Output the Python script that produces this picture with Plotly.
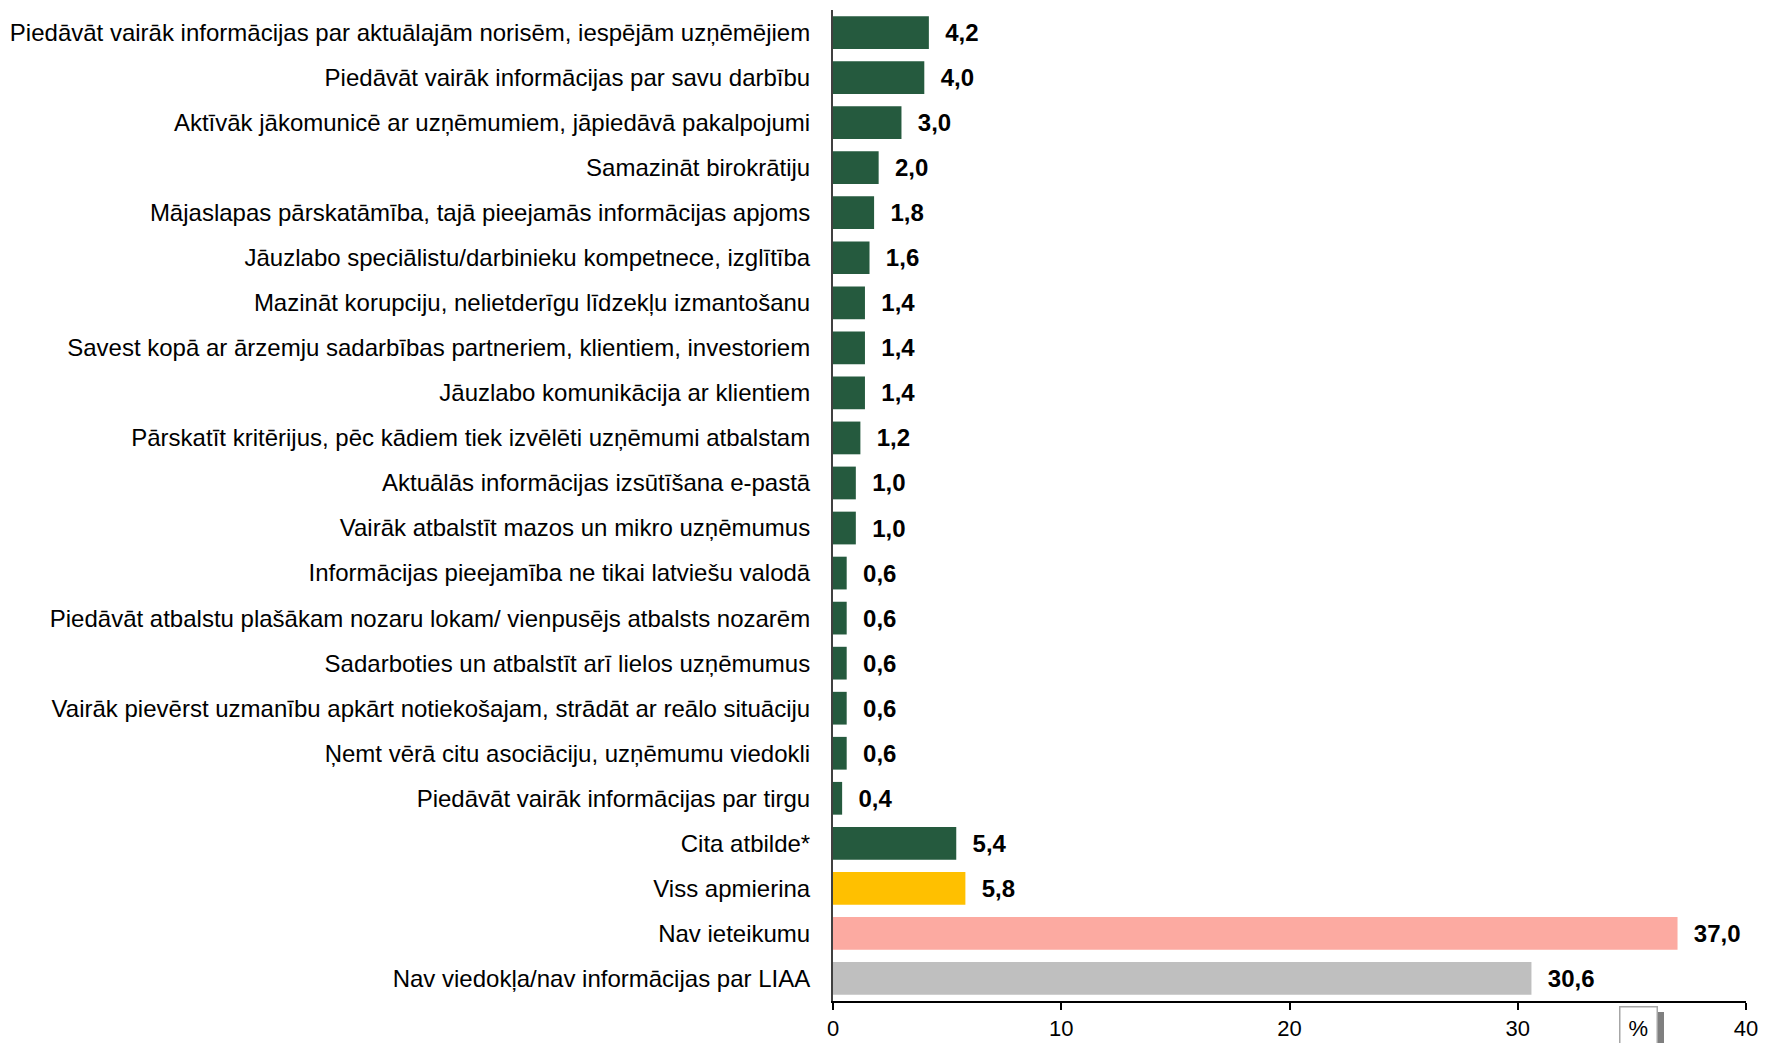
import plotly.graph_objects as go

categories = [
    "Piedāvāt vairāk informācijas par aktuālajām norisēm, iespējām uzņēmējiem",
    "Piedāvāt vairāk informācijas par savu darbību",
    "Aktīvāk jākomunicē ar uzņēmumiem, jāpiedāvā pakalpojumi",
    "Samazināt birokrātiju",
    "Mājaslapas pārskatāmība, tajā pieejamās informācijas apjoms",
    "Jāuzlabo speciālistu/darbinieku kompetnece, izglītība",
    "Mazināt korupciju, nelietderīgu līdzekļu izmantošanu",
    "Savest kopā ar ārzemju sadarbības partneriem, klientiem, investoriem",
    "Jāuzlabo komunikācija ar klientiem",
    "Pārskatīt kritērijus, pēc kādiem tiek izvēlēti uzņēmumi atbalstam",
    "Aktuālās informācijas izsūtīšana e-pastā",
    "Vairāk atbalstīt mazos un mikro uzņēmumus",
    "Informācijas pieejamība ne tikai latviešu valodā",
    "Piedāvāt atbalstu plašākam nozaru lokam/ vienpusējs atbalsts nozarēm",
    "Sadarboties un atbalstīt arī lielos uzņēmumus",
    "Vairāk pievērst uzmanību apkārt notiekošajam, strādāt ar reālo situāciju",
    "Ņemt vērā citu asociāciju, uzņēmumu viedokli",
    "Piedāvāt vairāk informācijas par tirgu",
    "Cita atbilde*",
    "Viss apmierina",
    "Nav ieteikumu",
    "Nav viedokļa/nav informācijas par LIAA",
]
values = [4.2, 4.0, 3.0, 2.0, 1.8, 1.6, 1.4, 1.4, 1.4, 1.2, 1.0, 1.0,
          0.6, 0.6, 0.6, 0.6, 0.6, 0.4, 5.4, 5.8, 37.0, 30.6]
x_ticks = [0, 10, 20, 30, 40]

GREEN = "#255A3E"
colors = [GREEN] * 19 + ["#FFC000", "#FCAAA1", "#BFBFBF"]

FONT = "Liberation Sans, Arial, sans-serif"
FS = 24

fig = go.Figure(go.Bar(
    y=categories,
    x=values,
    orientation="h",
    marker=dict(color=colors, line=dict(width=0)),
    texttemplate="\u00a0\u00a0%{x:.1f}",
    textposition="outside",
    textfont=dict(family=FONT, size=FS, color="black", weight="bold"),
    cliponaxis=False,
    hoverinfo="skip",
))

# The page body adds an 8px margin, so the figure is offset by 8px
fig.update_layout(
    template="none",
    width=1751, height=1035,
    margin=dict(l=825, r=13, t=2, b=42, autoexpand=False),
    paper_bgcolor="white", plot_bgcolor="white",
    separators=",.",
    bargap=0.273,
    showlegend=False,
    font=dict(family=FONT, size=FS, color="black"),
    xaxis=dict(
        range=[0, 40], tickvals=x_ticks, showgrid=False, zeroline=False,
        showline=True, linecolor="black", linewidth=2,
        ticks="outside", ticklen=7, tickcolor="black", tickwidth=2,
        tickfont=dict(size=22, family=FONT), fixedrange=True,
        automargin=False, ticklabeloverflow="allow",
    ),
    yaxis=dict(
        range=[len(categories) - 0.5, -0.5], showgrid=False, zeroline=False,
        showline=True, linecolor="#404040", linewidth=2,
        ticks="", ticklabelstandoff=16,
        tickfont=dict(size=FS, family=FONT), fixedrange=True,
        automargin=False,
    ),
)

# "%" unit box with shadow near the x axis
fig.add_shape(type="rect", xref="paper", yref="paper",
              xsizemode="pixel", xanchor=1, x0=-89, x1=-82,
              ysizemode="pixel", yanchor=0, y0=-11, y1=-60,
              fillcolor="#7F7F7F", line=dict(width=0), layer="above")
fig.add_annotation(text="%", xref="paper", yref="paper",
                   x=(1630 - 825) / 913, y=0, xanchor="center",
                   yanchor="top", yshift=-5,
                   showarrow=False, font=dict(size=22, family=FONT),
                   bordercolor="#A6A6A6", borderwidth=1.5, borderpad=8,
                   bgcolor="white")

fig.write_html("out.html")
